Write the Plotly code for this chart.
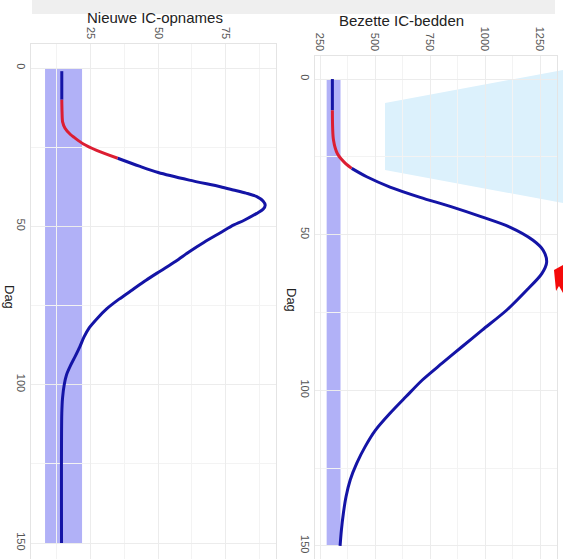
import plotly.graph_objects as go

W, H = 563, 559

# ---- data: Nieuwe IC-opnames (left panel) ----
opn_days = [1, 10, 14, 17, 19, 21, 22, 24, 26, 28.5, 31, 33, 35.4, 37.5, 38.5, 39.5, 40.6, 42, 43.3,
            44.5, 45.9, 48, 50, 52, 55, 58, 61, 64, 67, 70, 73, 76, 79, 82, 85, 88, 91, 94, 97,
            100, 104, 109, 150]
opn_vals = [14.3, 14.3, 14.4, 14.6, 15.5, 17.5, 19, 22.3, 27.2, 35, 43, 50, 61.5, 73, 77.8, 82.5, 86.5, 88.8, 89.6,
            88.9, 86.5, 82, 77, 73, 67, 61.5, 56.5, 51, 45.5, 40.5, 35.5, 31, 27.5, 24.5, 22.5, 21, 19.3, 17.5, 16,
            15.2, 14.6, 14.3, 14.2]
opn_red = [10, 28.5]          # red period
opn_band = [8.1, 21.8]        # capacity band

# ---- data: Bezette IC-bedden (right panel) ----
bed_days = [0, 10, 19.6, 24, 27, 28.7, 31.4, 34.7, 38, 41, 44.3, 47.5, 51.8, 55, 58.8, 62.5, 67.8,
            74.2, 80.6, 86, 91.3, 96.7, 102.1, 107.4, 112.8, 118.1, 123.4, 128.8, 134.2, 139.5, 144.9, 150]
bed_vals = [306, 306, 311, 329, 364, 394, 462, 568, 705, 845, 985, 1110, 1218, 1264, 1280, 1258, 1190,
            1099, 988, 895, 805, 715, 640, 568, 502, 455, 417, 387, 368, 356, 347, 341]
bed_red = [10, 28.7]
bed_band = [280, 343]

band_days = [0, 150]
day_ticks = [0, 50, 100, 150]
opn_ticks = [25, 50, 75]
bed_ticks = [250, 500, 750, 1000, 1250]

BLUE = "#1414a6"
RED = "#dc1e32"
BAND = "#b1b1f7"
GRID = "#ececec"
TICKC = "#555555"
FONT = "Liberation Sans"


def segments(days, vals, red):
    a = [(d, v) for d, v in zip(days, vals) if d <= red[0]]
    b = [(d, v) for d, v in zip(days, vals) if red[0] <= d <= red[1]]
    c = [(d, v) for d, v in zip(days, vals) if d >= red[1]]
    return [(a, BLUE), (b, RED), (c, BLUE)]


fig = go.Figure()

for days, vals, red, xa, ya in [(opn_days, opn_vals, opn_red, "x", "y"),
                               (bed_days, bed_vals, bed_red, "x2", "y2")]:
    for seg, col in segments(days, vals, red):
        fig.add_trace(go.Scatter(
            x=[p[1] for p in seg], y=[p[0] for p in seg], mode="lines",
            line=dict(color=col, width=3, shape="spline", smoothing=0.8),
            xaxis=xa, yaxis=ya, showlegend=False, hoverinfo="skip"))

# capacity bands
fig.add_shape(type="rect", xref="x", yref="y", x0=opn_band[0], x1=opn_band[1],
              y0=band_days[0], y1=band_days[1], fillcolor=BAND, line_width=0, layer="below")
fig.add_shape(type="rect", xref="x2", yref="y2", x0=bed_band[0], x1=bed_band[1],
              y0=band_days[0], y1=band_days[1], fillcolor=BAND, line_width=0, layer="below")


def P(px, py):
    return px / W, 1 - py / H


def path(pts):
    s = ""
    for i, (px, py) in enumerate(pts):
        x, y = P(px, py)
        s += ("M" if i == 0 else "L") + f"{x:.4f},{y:.4f} "
    return s + "Z"


# decorations (overlaid on original screenshot)
fig.add_shape(type="path", xref="paper", yref="paper",
              path=path([(32, 0), (555, 0), (555, 14), (32, 14)]),
              fillcolor="#efefef", line_width=0, layer="below")
fig.add_shape(type="path", xref="paper", yref="paper",
              path=path([(385, 103), (563, 70), (563, 203), (385, 170)]),
              fillcolor="#dcf1fc", line_width=0, layer="below")
fig.add_shape(type="path", xref="paper", yref="paper",
              path=path([(554, 270), (563, 265), (563, 293), (559, 286), (556, 291)]),
              fillcolor="#f40a0a", line_width=0, layer="above")

axis_common = dict(showgrid=True, gridcolor=GRID, gridwidth=1, zeroline=False,
                   showline=True, mirror=True, linecolor="#e4e4e4", linewidth=1,
                   ticks="", tickangle=90, automargin=False,
                   tickfont=dict(family=FONT, size=11, color=TICKC))

title_font = dict(family=FONT, size=15, color="#222222")
ann_font = dict(family=FONT, size=13, color="#222222")

fig.update_layout(
    width=W, height=H, autosize=False,
    margin=dict(l=0, r=0, t=0, b=0),
    paper_bgcolor="white", plot_bgcolor="white",
    xaxis=dict(domain=[31 / W, 276 / W], range=[2.9, 93.6], side="top", anchor="y",
               tickvals=opn_ticks, minor=dict(tick0=12.5, dtick=25, showgrid=True, gridcolor="#f3f3f3"),
               **axis_common),
    yaxis=dict(domain=[0, 1 - 44 / H], range=[155.05, -7.58], anchor="x",
               tickvals=day_ticks, minor=dict(tick0=25, dtick=50, showgrid=True, gridcolor="#f3f3f3"),
               **axis_common),
    xaxis2=dict(domain=[315 / W, 557 / W], range=[227, 1327], side="top", anchor="y2",
                tickvals=bed_ticks, minor=dict(tick0=125, dtick=250, showgrid=True, gridcolor="#f3f3f3"),
                **axis_common),
    yaxis2=dict(domain=[0, 1 - 56 / H], range=[154.2, -7.4], anchor="x2",
                tickvals=day_ticks, minor=dict(tick0=25, dtick=50, showgrid=True, gridcolor="#f3f3f3"),
                **axis_common),
    annotations=[
        dict(text="Nieuwe IC-opnames", x=155 / W, y=1 - 18 / H, xref="paper", yref="paper",
             xanchor="center", yanchor="middle", showarrow=False, font=title_font),
        dict(text="Bezette IC-bedden", x=401 / W, y=1 - 20 / H, xref="paper", yref="paper",
             xanchor="center", yanchor="middle", showarrow=False, font=title_font),
        dict(text="Dag", x=10 / W, y=1 - 297 / H, xref="paper", yref="paper", textangle=90,
             xanchor="center", yanchor="middle", showarrow=False, font=ann_font),
        dict(text="Dag", x=292 / W, y=1 - 300 / H, xref="paper", yref="paper", textangle=90,
             xanchor="center", yanchor="middle", showarrow=False, font=ann_font),
    ],
)

fig.write_html("out.html", config={"displayModeBar": False},
               post_script="document.body.style.margin='0px';")
